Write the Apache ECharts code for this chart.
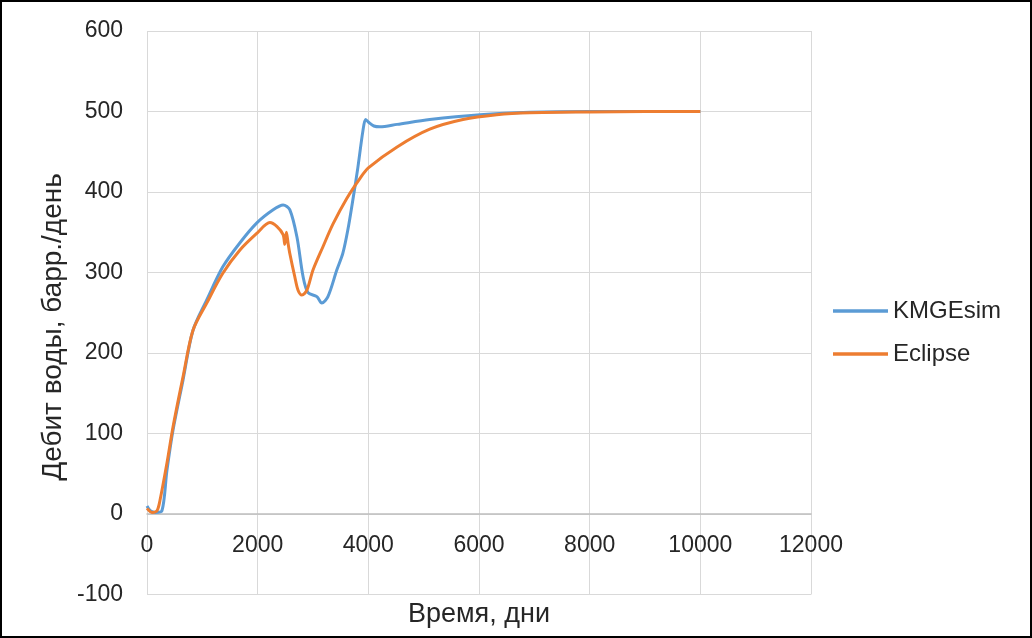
<!DOCTYPE html>
<html>
<head>
<meta charset="utf-8">
<script src="https://cdn.jsdelivr.net/npm/echarts@6/dist/echarts.min.js"></script>
<style>
html,body{margin:0;padding:0;background:#fff;}
#c{width:1032px;height:638px;}
</style>
</head>
<body>
<div id="c"></div>
<script>
// Data
var seriesNames = ["KMGEsim", "Eclipse"];
var kmgX = [0, 60, 150, 270, 360, 470, 650, 830, 1080, 1370, 1680, 1990, 2280, 2460, 2580, 2710, 2820, 2910, 3070, 3160, 3270, 3430, 3540, 3630, 3720, 3810, 3900, 3950, 4000, 4100, 4210, 4520, 5110, 6020, 6920, 8000, 9000, 10000];
var kmgY = [10, 4, 2, 4, 54, 104, 166, 228, 266, 307, 337, 362, 378, 384, 378, 344, 295, 275, 270, 262, 270, 303, 324, 353, 390, 430, 475, 490, 487, 482, 481, 484, 490, 496, 499, 500, 500, 500];
var eclX = [0, 90, 180, 235, 360, 470, 650, 830, 1080, 1370, 1680, 1990, 2220, 2350, 2460, 2490, 2520, 2550, 2580, 2670, 2730, 2800, 2890, 3000, 3180, 3360, 3610, 3850, 4000, 4520, 5110, 5710, 6320, 6920, 8000, 9000, 10000];
var eclY = [7, 2, 4, 17, 63, 108, 170, 228, 262, 299, 328, 349, 362, 357, 347, 335, 350, 336, 324, 295, 278, 272, 278, 303, 332, 360, 392, 417, 430, 456, 478, 490, 496, 498.5, 499.5, 500, 500];
var xTicks = {min: 0, max: 12000, interval: 2000};
var yTicks = {min: -100, max: 600, interval: 100};
var xTitle = 'Время, дни';
var yTitle = 'Дебит воды, барр./день';

function pairs(xs, ys){ return xs.map(function(x,i){ return [x, ys[i]]; }); }

var chart = echarts.init(document.getElementById('c'), null, {renderer:'canvas'});
var font = 'Liberation Sans, Arial, sans-serif';
var txt = '#262626';
var gridTop = 31, gridBottom = 43.5, H = 638;
var plotH = H - gridTop - gridBottom;
// distance from the bottom of the plot to the zero line, computed from the axis range
var zeroOffset = plotH * (0 - yTicks.min) / (yTicks.max - yTicks.min);
chart.setOption({
  animation: false,
  backgroundColor: '#fff',
  textStyle: {fontFamily: font},
  grid: {left: 147, right: 221, top: gridTop, bottom: gridBottom, containLabel: false, outerBoundsMode: 'none'},
  legend: {
    orient: 'vertical', left: 833, top: 299, padding: 0,
    icon: 'rect', itemWidth: 55, itemHeight: 3.5, itemGap: 19,
    textStyle: {fontSize: 24, color: txt, fontFamily: font},
    data: seriesNames
  },
  xAxis: {
    type: 'value', min: xTicks.min, max: xTicks.max, interval: xTicks.interval,
    position: 'bottom', offset: -zeroOffset,
    axisLine: {show: true, onZero: false, lineStyle: {color: '#bfbfbf', width: 1.5}},
    axisTick: {show: false},
    axisLabel: {fontSize: 23, color: txt, margin: 20, fontFamily: font,
      formatter: function(v){ return String(v); }},
    splitLine: {show: true, lineStyle: {color: '#d9d9d9', width: 1}}
  },
  yAxis: {
    type: 'value', min: yTicks.min, max: yTicks.max, interval: yTicks.interval,
    axisLine: {show: false},
    axisTick: {show: false},
    axisLabel: {fontSize: 23, color: txt, margin: 24, fontFamily: font, padding: [3, 0, 0, 0],
      formatter: function(v){ return String(v); }},
    splitLine: {show: true, lineStyle: {color: '#d9d9d9', width: 1}}
  },
  graphic: [
    {type: 'rect', silent: true, z: 100,
     shape: {x: 1, y: 1, width: 1030, height: 636},
     style: {fill: 'none', stroke: '#000', lineWidth: 2}},
    {type: 'text', x: 479, y: 615, silent: true,
     style: {text: xTitle, fontSize: 27, fill: txt, fontFamily: font, align: 'center', verticalAlign: 'middle'}},
    {type: 'text', x: 53, y: 327, rotation: Math.PI / 2, silent: true,
     style: {text: yTitle, fontSize: 28, fill: txt, fontFamily: font, align: 'center', verticalAlign: 'middle'}}
  ],
  series: [
    {name: seriesNames[0], type: 'line', data: pairs(kmgX, kmgY), showSymbol: false, smooth: 0.3,
     lineStyle: {color: '#5B9BD5', width: 3}, itemStyle: {color: '#5B9BD5'}, z: 2},
    {name: seriesNames[1], type: 'line', data: pairs(eclX, eclY), showSymbol: false, smooth: 0.3,
     lineStyle: {color: '#ED7D31', width: 3}, itemStyle: {color: '#ED7D31'}, z: 3}
  ]
});
</script>
</body>
</html>
